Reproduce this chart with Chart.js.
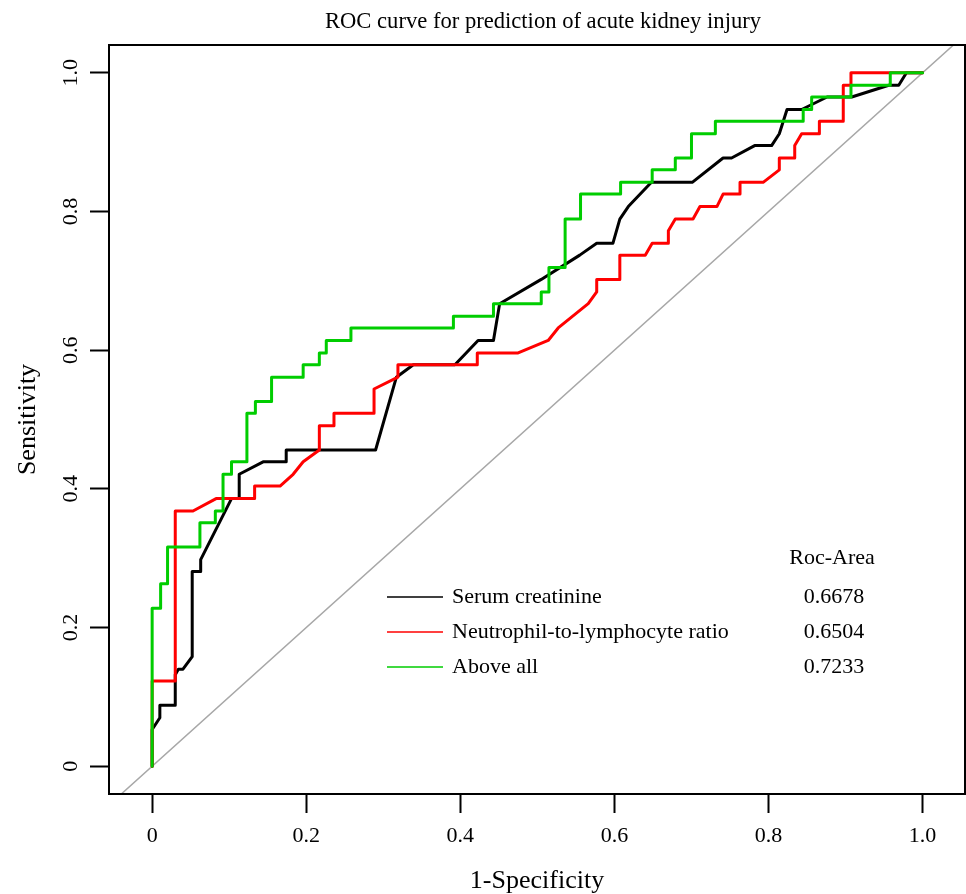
<!DOCTYPE html>
<html>
<head>
<meta charset="utf-8">
<title>ROC curve for prediction of acute kidney injury</title>
<script src="https://cdn.jsdelivr.net/npm/chart.js@4.4.1/dist/chart.umd.min.js"></script>
<style>
  html, body { margin: 0; padding: 0; background: #fff; }
  #wrap { position: relative; width: 966px; height: 894px; }
</style>
</head>
<body>
<div id="wrap"><canvas id="roc"></canvas></div>
<script>
// --- Data ---
const chartTitle = 'ROC curve for prediction of acute kidney injury';
const seriesNames = ['Serum creatinine', 'Neutrophil-to-lymphocyte ratio', 'Above all'];
const rocAreas = ['0.6678', '0.6504', '0.7233'];
const tickValues = [0, 0.2, 0.4, 0.6, 0.8, 1.0];
const tickLabels = ['0', '0.2', '0.4', '0.6', '0.8', '1.0'];

// Serum creatinine (black)
const creatFpr = [0, 0, 0.010, 0.010, 0.030, 0.030, 0.034, 0.040, 0.052, 0.052,
  0.063, 0.063, 0.103, 0.113, 0.113, 0.144, 0.174, 0.174, 0.290, 0.317,
  0.339, 0.393, 0.423, 0.443, 0.451, 0.505, 0.555, 0.577, 0.598, 0.607,
  0.618, 0.648, 0.701, 0.741, 0.752, 0.782, 0.804, 0.814, 0.824, 0.843,
  0.876, 0.908, 0.956, 0.969, 0.979, 1.0];
const creatTpr = [0, 0.053, 0.070, 0.088, 0.088, 0.132, 0.140, 0.140, 0.158, 0.281,
  0.281, 0.298, 0.386, 0.386, 0.421, 0.439, 0.439, 0.456, 0.456, 0.561,
  0.579, 0.579, 0.614, 0.614, 0.667, 0.702, 0.737, 0.754, 0.754, 0.789,
  0.807, 0.842, 0.842, 0.877, 0.877, 0.895, 0.895, 0.912, 0.947, 0.947,
  0.965, 0.965, 0.982, 0.982, 1.0, 1.0];

// Neutrophil-to-lymphocyte ratio (red)
const nlrFpr = [0, 0, 0.030, 0.030, 0.053, 0.083, 0.133, 0.133, 0.166, 0.183,
  0.196, 0.217, 0.217, 0.236, 0.236, 0.288, 0.288, 0.319, 0.319, 0.422,
  0.422, 0.475, 0.514, 0.527, 0.566, 0.577, 0.577, 0.607, 0.607, 0.640,
  0.649, 0.670, 0.670, 0.679, 0.702, 0.711, 0.733, 0.741, 0.763, 0.763,
  0.793, 0.814, 0.814, 0.834, 0.834, 0.843, 0.866, 0.866, 0.897, 0.897,
  0.907, 0.907, 1.0];
const nlrTpr = [0, 0.123, 0.123, 0.368, 0.368, 0.386, 0.386, 0.404, 0.404, 0.421,
  0.439, 0.456, 0.491, 0.491, 0.509, 0.509, 0.544, 0.561, 0.579, 0.579,
  0.596, 0.596, 0.614, 0.632, 0.667, 0.684, 0.702, 0.702, 0.737, 0.737,
  0.754, 0.754, 0.772, 0.789, 0.789, 0.807, 0.807, 0.825, 0.825, 0.842,
  0.842, 0.860, 0.877, 0.877, 0.895, 0.912, 0.912, 0.930, 0.930, 0.982,
  0.982, 1.0, 1.0];

// Above all (green) - pure staircase, drawn stepped (across, then up)
const allFpr = [0, 0, 0.011, 0.020, 0.062, 0.082, 0.092, 0.103, 0.123, 0.134,
  0.155, 0.196, 0.217, 0.226, 0.258, 0.391, 0.443, 0.505, 0.515, 0.536,
  0.556, 0.608, 0.649, 0.679, 0.700, 0.731, 0.845, 0.856, 0.907, 0.958, 1.0];
const allTpr = [0, 0.228, 0.263, 0.316, 0.351, 0.368, 0.421, 0.439, 0.509, 0.526,
  0.561, 0.579, 0.596, 0.614, 0.632, 0.649, 0.667, 0.684, 0.719, 0.789,
  0.825, 0.842, 0.860, 0.877, 0.912, 0.930, 0.947, 0.965, 0.982, 1.0, 1.0];

// reference line y = x
const diagX = [-0.1, 1.1];
const diagY = [-0.1, 1.1];

// --- helpers ---
const serif = "'Liberation Serif', 'Times New Roman', serif";
const seriesColors = ['#000000', '#ff0000', '#00cd00'];

function toPoints(xs, ys) {
    return xs.map((x, i) => ({ x: x, y: ys[i] }));
}

function curve(label, xs, ys, color, order, extra) {
    return Object.assign({
        label: label,
        data: toPoints(xs, ys),
        showLine: true,
        borderColor: color,
        backgroundColor: color,
        borderWidth: 3,
        pointRadius: 0,
        tension: 0,
        fill: false,
        borderJoinStyle: 'round',
        borderCapStyle: 'round',
        order: order
    }, extra || {});
}

// --- plot box, title and legend (R style) ---
const rDecor = {
    id: 'rDecor',
    afterDatasetsDraw(chart) {
        const { ctx, chartArea: a } = chart;
        ctx.save();
        ctx.strokeStyle = '#000';
        ctx.lineWidth = 2;
        ctx.strokeRect(a.left, a.top, a.right - a.left, a.bottom - a.top);

        // title (the original figure is slightly cropped on the right)
        ctx.fillStyle = '#000';
        ctx.font = '22.6px ' + serif;
        ctx.textAlign = 'center';
        ctx.textBaseline = 'middle';
        ctx.fillText(chartTitle, 543, 22);

        // legend
        ctx.font = '22px ' + serif;
        const rows = [597, 632, 667];
        ctx.fillText('Roc-Area', 832, 558);
        seriesNames.forEach((name, i) => {
            ctx.strokeStyle = seriesColors[i];
            ctx.lineWidth = 1.5;
            ctx.beginPath();
            ctx.moveTo(387, rows[i]);
            ctx.lineTo(443, rows[i]);
            ctx.stroke();
            ctx.textAlign = 'left';
            ctx.fillText(name, 452, rows[i]);
            ctx.textAlign = 'center';
            ctx.fillText(rocAreas[i], 834, rows[i]);
        });
        ctx.restore();
    }
};

const tickFont = { family: serif, size: 22 };
const titleFont = { family: serif, size: 26, lineHeight: 1 };

new Chart(document.getElementById('roc'), {
    type: 'scatter',
    data: {
        datasets: [
            curve(seriesNames[2], allFpr, allTpr, seriesColors[2], 0, { stepped: 'before' }),
            curve(seriesNames[1], nlrFpr, nlrTpr, seriesColors[1], 1),
            curve(seriesNames[0], creatFpr, creatTpr, seriesColors[0], 2),
            curve('reference', diagX, diagY, '#a8a8a8', 3, { borderWidth: 1.5, clip: 0 })
        ]
    },
    options: {
        responsive: true,
        maintainAspectRatio: false,
        animation: false,
        layout: { padding: { top: 45, right: 1, bottom: 0, left: 0 } },
        plugins: {
            legend: { display: false },
            tooltip: { enabled: false },
            title: { display: false }
        },
        scales: {
            x: {
                type: 'linear',
                min: -0.056,
                max: 1.055,
                afterBuildTicks: s => { s.ticks = tickValues.map(v => ({ value: v })); },
                afterFit: s => { s.height = 100; },
                border: { display: false },
                grid: { drawOnChartArea: false, drawTicks: true, tickLength: 19, tickWidth: 2, tickColor: '#000' },
                ticks: {
                    autoSkip: false, maxRotation: 0, padding: 10, color: '#000', font: tickFont,
                    callback: (v, i) => tickLabels[i]
                },
                title: { display: true, text: '1-Specificity', color: '#000', font: titleFont, padding: { bottom: 0 } }
            },
            y: {
                type: 'linear',
                min: -0.04,
                max: 1.04,
                afterBuildTicks: s => { s.ticks = tickValues.map(v => ({ value: v })); },
                afterFit: s => { s.width = 109; },
                border: { display: false },
                grid: { drawOnChartArea: false, drawTicks: true, tickLength: 19, tickWidth: 2, tickColor: '#000' },
                ticks: {
                    autoSkip: false, minRotation: 90, maxRotation: 90, crossAlign: 'center',
                    padding: 5, color: '#000', font: tickFont,
                    callback: (v, i) => tickLabels[i]
                },
                title: { display: true, text: 'Sensitivity', color: '#000', font: titleFont, padding: { top: 15 } }
            }
        }
    },
    plugins: [rDecor]
});
</script>
</body>
</html>
